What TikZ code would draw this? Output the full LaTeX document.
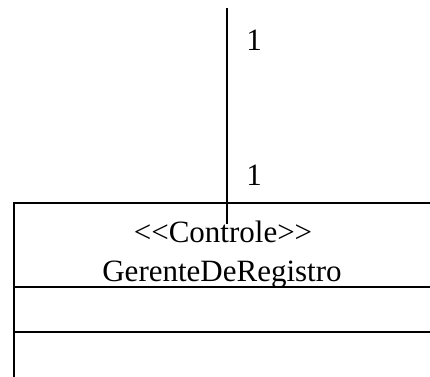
\documentclass[tikz,border=0pt]{standalone}
\usepackage{fontspec}
\setmainfont{Liberation Serif}[Ligatures=TeXOff]
\begin{document}
\begin{tikzpicture}[x=1pt,y=-1pt,
  lbl/.style={inner sep=0pt,anchor=base,font=\fontsize{31}{31}\selectfont},
  ln/.style={line width=1.9pt}]
\useasboundingbox (0,0) rectangle (430,376);
\draw[ln] (14,380) -- (14,203) -- (440,203);
\draw[ln] (14,287) -- (440,287);
\draw[ln] (14,332) -- (440,332);
\node[lbl] (st) at (223,242) {<<Controle>>};
\node[lbl] (nm) at (222,281) {GerenteDeRegistro};
\coordinate (top) at (227,8);
\coordinate (end) at (227,224);
\draw[ln] (top) -- (end);
\node[lbl] (m1) at (254,50) {1};
\node[lbl] (m2) at (254,185) {1};
\end{tikzpicture}
\end{document}
